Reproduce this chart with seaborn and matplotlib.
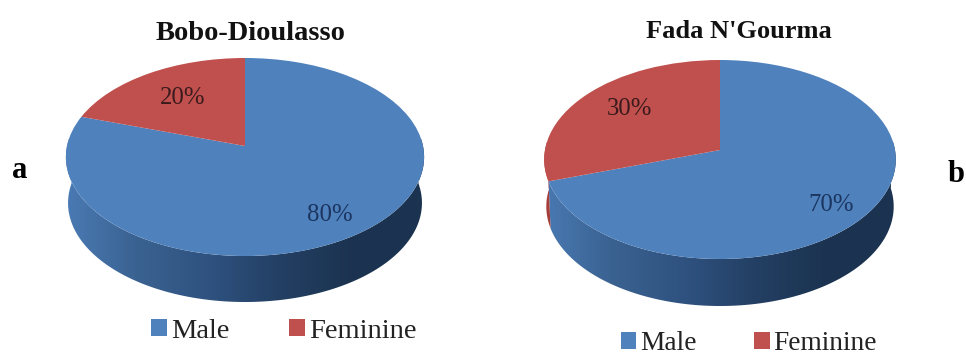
import numpy as np
import matplotlib
matplotlib.use("Agg")
import matplotlib.pyplot as plt
from matplotlib.colors import LinearSegmentedColormap
from matplotlib.patches import PathPatch
from matplotlib.path import Path
from matplotlib.transforms import Transform
import seaborn as sns

# Survey shares by city
categories = ["Male", "Feminine"]
bobo_shares = [80, 20]
fada_shares = [70, 30]
panel_titles = ["Bobo-Dioulasso", "Fada N'Gourma"]
panel_letters = ["a", "b"]

sns.set_theme(style="white")
plt.rcParams["font.family"] = ["Liberation Serif", "DejaVu Serif"]

face_colors = sns.color_palette(["#4f81bd", "#c0504d"])
wall_maps = [
    LinearSegmentedColormap.from_list("blue_wall", ["#4a7ab4", "#3a6291", "#2f5280", "#233f63", "#1b3350", "#1b3350"]),
    LinearSegmentedColormap.from_list("red_wall", ["#a8403c", "#8a3532", "#6a2827"]),
]
label_colors = ["#1b3560", "#3a1a1c"]


class DiscPerspective(Transform):
    """Tilts a unit-circle pie into screen pixels with a mild perspective."""
    input_dims = output_dims = 2
    has_inverse = False

    def __init__(self, cx, cy, rx, ry_back, ry_front, drop=0.0, shrink=1.0):
        super().__init__()
        self.cx, self.cy, self.rx = cx, cy, rx
        self.b = (ry_front - ry_back) / (ry_front + ry_back)
        self.a = ry_back * (1 + self.b)
        self.drop, self.shrink = drop, shrink

    def transform_non_affine(self, values):
        values = np.asarray(values, dtype=float)
        x, y = values[:, 0], values[:, 1]
        den = 1 + self.b * y
        px = self.cx + self.shrink * self.rx * x / den
        py = self.cy - self.a * y / den + self.drop
        return np.column_stack([px, py])


def draw_wall(ax, wedge, top, bottom, cmap, x0, x1, y0, y1):
    lo, hi = sorted((wedge.theta1, wedge.theta2))
    # Only the near side of the rim can be seen
    while hi < 175:
        lo, hi = lo + 360, hi + 360
    if lo < -100:
        lo, hi = lo + 360, hi + 360
    start, end = max(lo, 175), min(hi, 365)
    if start >= end:
        return
    t = np.radians(np.linspace(start, end, 160))
    rim = np.column_stack([np.cos(t), np.sin(t)])
    outline = np.vstack([top.transform(rim), bottom.transform(rim)[::-1]])
    clip = PathPatch(Path(np.vstack([outline, outline[:1]]), closed=True),
                     transform=ax.transData, facecolor="none", edgecolor="none")
    ramp = np.linspace(0, 1, 256).reshape(1, -1)
    image = ax.imshow(ramp, cmap=cmap, extent=(x0, x1, y1, y0), aspect="auto",
                      zorder=1, interpolation="bilinear")
    image.set_clip_path(clip)


def draw_panel(shares, title, geometry):
    ax = fig.add_axes([0, 0, 1, 1], facecolor="none")
    wedges, _, autotexts = ax.pie(
        shares, colors=face_colors, startangle=90, counterclock=False,
        autopct="%d%%", wedgeprops={"linewidth": 0},
    )
    top = DiscPerspective(*geometry["disc"])
    bottom = DiscPerspective(*geometry["disc"], drop=geometry["drop"], shrink=0.988)
    x0, x1 = geometry["disc"][0] - 180, geometry["disc"][0] + 180
    for wedge, cmap in zip(wedges, wall_maps):
        draw_wall(ax, wedge, top, bottom, cmap, x0, x1, 40, 320)
        wedge.set_transform(top + ax.transData)
        wedge.set_zorder(2)
    for text, pos, color in zip(autotexts, geometry["label_xy"], label_colors):
        text.set(position=pos, color=color, fontsize=geometry["label_size"],
                 ha="center", va="center", zorder=3)
    ax.set_aspect("auto")
    ax.set_xlim(0, 966)
    ax.set_ylim(356, 0)
    ax.text(*geometry["title_xy"], title, ha="center", va="center",
            fontweight="bold", fontsize=geometry["title_size"], color="#111111")
    ax.legend(wedges, categories, ncol=2, loc="center", frameon=False,
              bbox_to_anchor=geometry["legend_xy"], bbox_transform=ax.transData,
              fontsize=geometry["legend_size"], handlelength=0.56, handleheight=0.56,
              handletextpad=0.14, columnspacing=2.1, borderpad=0, labelcolor="#222222")
    return ax


fig = plt.figure(figsize=(9.66, 3.56), dpi=100, facecolor="white")

draw_panel(bobo_shares, panel_titles[0], {
    "disc": (245, 146, 178, 88, 110), "drop": 46,
    "label_xy": [(330, 215), (183, 98)], "label_size": 17.8,
    "title_xy": (251, 34), "title_size": 20.5,
    "legend_xy": (284, 331), "legend_size": 20.5,
})
axb = draw_panel(fada_shares, panel_titles[1], {
    "disc": (720, 150, 175, 90, 109), "drop": 47,
    "label_xy": [(831, 205), (629, 109)], "label_size": 17.8,
    "title_xy": (739, 32), "title_size": 19,
    "legend_xy": (749, 343.5), "legend_size": 19.7,
})

axb.text(20, 171, panel_letters[0], ha="center", va="center", fontweight="bold", fontsize=22, color="black")
axb.text(965, 174, panel_letters[1], ha="right", va="center", fontweight="bold", fontsize=22, color="black")

fig.savefig("out.png", dpi=100)
